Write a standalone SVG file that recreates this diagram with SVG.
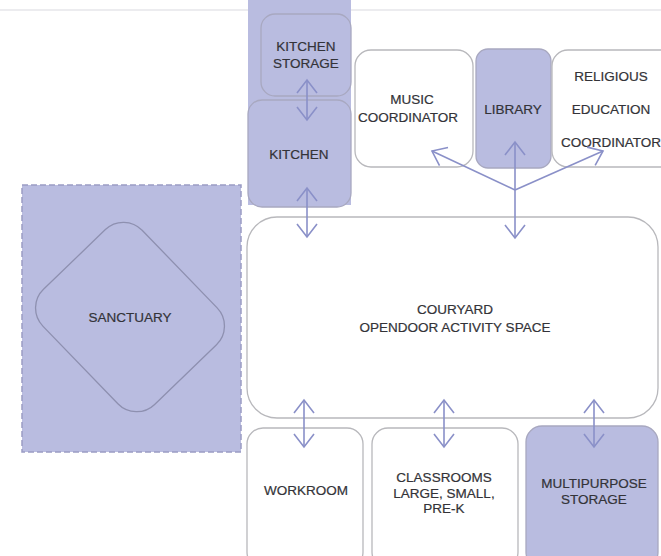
<svg xmlns="http://www.w3.org/2000/svg" width="661" height="556" viewBox="0 0 661 556">
<style>
.box{fill:#ffffff;stroke:#b8b8bc;stroke-width:1.3}
.pbox{fill:#b9bce0;stroke:#a8a8c0;stroke-width:1.3}
.t{font-family:"Liberation Sans",Arial,sans-serif;font-size:13.5px;fill:#333338;text-anchor:middle;stroke:#333338;stroke-width:0.2}
.c{fill:none;stroke:#8a90c8;stroke-width:1.6;marker-start:url(#ah);marker-end:url(#ah)}
.c1{fill:none;stroke:#8a90c8;stroke-width:1.6;marker-end:url(#ah)}
</style>
<defs>
<marker id="ah" viewBox="0 0 26 26" refX="14" refY="13" markerWidth="26" markerHeight="26" markerUnits="userSpaceOnUse" orient="auto-start-reverse">
<path d="M1,3 L14,13 L1,23" fill="none" stroke="#8a90c8" stroke-width="1.6"/>
</marker>
</defs>
<rect width="661" height="556" fill="#ffffff"/>
<line x1="0" y1="10" x2="661" y2="10" stroke="#e6e6ea" stroke-width="1.5"/>

<g id="sanctuary">
<rect x="22" y="185" width="219" height="267" fill="#b9bce0" stroke="#9a9cc4" stroke-width="1.5" stroke-dasharray="6,3"/>
<rect x="-80" y="-69" width="160" height="138" rx="26" fill="none" stroke="#8e90b0" stroke-width="1.3" transform="translate(130,317) rotate(46)"/>
<text class="t" x="130" y="322">SANCTUARY</text>
</g>

<g id="kitchen-column">
<rect x="248" y="0" width="103" height="205" fill="#b9bce0"/>
</g>
<g id="kitchen-storage">
<rect class="pbox" x="261" y="14" width="90" height="82" rx="14"/>
<text class="t" x="306" y="51">KITCHEN</text>
<text class="t" x="306" y="68">STORAGE</text>
</g>
<g id="kitchen">
<rect class="pbox" x="248" y="100" width="103" height="107" rx="14"/>
<text class="t" x="299" y="159">KITCHEN</text>
</g>

<g id="music">
<rect class="box" x="355" y="50" width="118" height="117" rx="16"/>
<text class="t" x="412" y="104">MUSIC</text>
<text class="t" x="408" y="122">COORDINATOR</text>
</g>
<g id="library">
<rect class="pbox" x="476" y="49" width="75" height="119" rx="12"/>
<text class="t" x="513" y="114">LIBRARY</text>
</g>
<g id="religious">
<rect class="box" x="552" y="50" width="130" height="117" rx="16"/>
<text class="t" x="611" y="81">RELIGIOUS</text>
<text class="t" x="611" y="114">EDUCATION</text>
<text class="t" x="611" y="147">COORDINATOR</text>
</g>

<g id="courtyard">
<rect class="box" x="247" y="217" width="411" height="201" rx="30"/>
<text class="t" x="455" y="314">COURYARD</text>
<text class="t" x="455" y="332">OPENDOOR ACTIVITY SPACE</text>
</g>

<g id="workroom">
<rect class="box" x="247" y="428" width="116" height="140" rx="16"/>
<text class="t" x="306" y="495">WORKROOM</text>
</g>
<g id="classrooms">
<rect class="box" x="372" y="428" width="146" height="140" rx="16"/>
<text class="t" x="444" y="482">CLASSROOMS</text>
<text class="t" x="444" y="498">LARGE, SMALL,</text>
<text class="t" x="444" y="513">PRE-K</text>
</g>
<g id="multipurpose-storage">
<rect class="pbox" x="526" y="426" width="132" height="142" rx="16"/>
<text class="t" x="594" y="488">MULTIPURPOSE</text>
<text class="t" x="594" y="504">STORAGE</text>
</g>

<g id="connectors">
<line class="c" x1="307" y1="80" x2="307" y2="120"/>
<line class="c" x1="307" y1="188" x2="307" y2="237"/>
<line class="c" x1="515" y1="142" x2="515" y2="238"/>
<line class="c1" x1="515" y1="190" x2="432" y2="151"/>
<line class="c1" x1="515" y1="190" x2="603" y2="151"/>
<line class="c" x1="304" y1="400" x2="304" y2="447"/>
<line class="c" x1="444" y1="400" x2="444" y2="447"/>
<line class="c" x1="594" y1="400" x2="594" y2="447"/>
</g>
</svg>
